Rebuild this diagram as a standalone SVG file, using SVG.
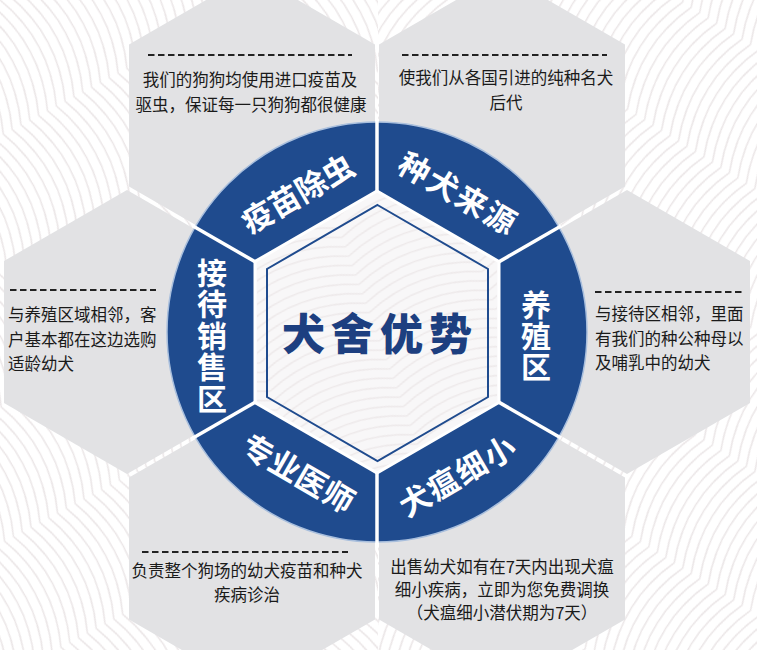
<svg xmlns="http://www.w3.org/2000/svg" width="757" height="650" viewBox="0 0 757 650">
  <style>
    .hex { fill: #e2e2e4; }
    .desc { font-family: 'Noto Sans CJK SC', 'Noto Sans', sans-serif; font-size: 16.5px; fill: #1a1a1a; }
    .mid { text-anchor: middle; }
    .dash { stroke: #222; stroke-width: 2; stroke-dasharray: 6.5 3.5; fill: none; }
    .lbl { font-family: 'Noto Sans CJK SC', 'Noto Sans', sans-serif; font-size: 31px; font-weight: 700; fill: #ffffff; text-anchor: middle; }
    .vl { font-size: 30px; writing-mode: vertical-rl; }
    .title { font-family: 'Noto Sans CJK SC', 'Noto Sans', sans-serif; font-size: 43px; font-weight: 900; fill: #1d3f80; text-anchor: middle; letter-spacing: 6px; }
    .yarn { fill: none; stroke: #ebe6e7; stroke-width: 1.6; }
  </style>
  <defs>
    <pattern id="yarnA" width="120" height="120" patternUnits="userSpaceOnUse" patternTransform="rotate(62)">
      <path class="yarn" d="M0 0 Q60 -25 120 0 M0 10 Q60 -15 120 10 M0 20 Q60 -5 120 20 M0 30 Q60 5 120 30 M0 40 Q60 15 120 40 M0 50 Q60 25 120 50 M0 60 Q60 35 120 60 M0 70 Q60 45 120 70 M0 80 Q60 55 120 80 M0 90 Q60 65 120 90 M0 100 Q60 75 120 100 M0 110 Q60 85 120 110 M0 120 Q60 95 120 120 M0 130 Q60 105 120 130"/>
    </pattern>
    <pattern id="yarnB" width="120" height="120" patternUnits="userSpaceOnUse" patternTransform="rotate(-58)">
      <path class="yarn" d="M0 0 Q60 -25 120 0 M0 10 Q60 -15 120 10 M0 20 Q60 -5 120 20 M0 30 Q60 5 120 30 M0 40 Q60 15 120 40 M0 50 Q60 25 120 50 M0 60 Q60 35 120 60 M0 70 Q60 45 120 70 M0 80 Q60 55 120 80 M0 90 Q60 65 120 90 M0 100 Q60 75 120 100 M0 110 Q60 85 120 110 M0 120 Q60 95 120 120 M0 130 Q60 105 120 130"/>
    </pattern>
    <pattern id="yarnC" width="120" height="120" patternUnits="userSpaceOnUse" patternTransform="rotate(-20)">
      <path class="yarn" d="M0 0 Q60 -25 120 0 M0 10 Q60 -15 120 10 M0 20 Q60 -5 120 20 M0 30 Q60 5 120 30 M0 40 Q60 15 120 40 M0 50 Q60 25 120 50 M0 60 Q60 35 120 60 M0 70 Q60 45 120 70 M0 80 Q60 55 120 80 M0 90 Q60 65 120 90 M0 100 Q60 75 120 100 M0 110 Q60 85 120 110 M0 120 Q60 95 120 120 M0 130 Q60 105 120 130"/>
    </pattern>
  </defs>

  <!-- background with yarn texture -->
  <g id="background">
    <rect x="0" y="0" width="757" height="650" fill="#ffffff"/>
    <rect x="0" y="0" width="378" height="650" fill="url(#yarnA)"/>
    <rect x="378" y="0" width="379" height="650" fill="url(#yarnB)"/>
  </g>

  <!-- honeycomb cells -->
  <g id="cells">
    <polygon class="hex" points="252,-26.5 375,44.5 375,186.5 252,257.5 129,186.5 129,44.5"/>
    <polygon class="hex" points="502,-26.5 625,44.5 625,186.5 502,257.5 379,186.5 379,44.5"/>
    <polygon class="hex" points="127,190 250,261 250,403 127,474 4,403 4,261"/>
    <polygon class="hex" points="627,190 750,261 750,403 627,474 504,403 504,261"/>
    <polygon class="hex" points="252,406.5 375,477.5 375,619.5 252,690.5 129,619.5 129,477.5"/>
    <polygon class="hex" points="502,406.5 625,477.5 625,619.5 502,690.5 379,619.5 379,477.5"/>
  </g>

  <!-- blue ring -->
  <g id="ring">
    <circle cx="377" cy="332" r="210" fill="#1f4b8e" stroke="#a9bfdd" stroke-width="1.5"/>
  </g>

  <!-- dividers between ring segments -->
  <g id="connectors" stroke="#ffffff" stroke-width="3.5" fill="none">
    <line x1="377" y1="332" x2="377" y2="120"/>
    <line x1="377" y1="332" x2="561" y2="226"/>
    <line x1="377" y1="332" x2="561" y2="438"/>
    <line x1="377" y1="332" x2="377" y2="544"/>
    <line x1="377" y1="332" x2="193" y2="438"/>
    <line x1="377" y1="332" x2="193" y2="226"/>
  </g>

  <!-- center -->
  <g id="center">
    <polygon points="377,191 499,261.5 499,402.5 377,473 255,402.5 255,261.5" fill="#f8f7f8" stroke="#ffffff" stroke-width="3"/>
    <polygon points="377,193 497,262.5 497,401.5 377,471 257,401.5 257,262.5" fill="url(#yarnC)" opacity="0.8"/>
    <polygon points="377.5,205 488,269 488,397 377.5,461 267,397 267,269" fill="none" stroke="#1f4b8e" stroke-width="2"/>
    <text class="title" x="380" y="350">犬舍优势</text>
  </g>

  <!-- node: 疫苗除虫 -->
  <g id="node-vaccine">
    <line class="dash" x1="148" y1="55" x2="352" y2="55"/>
    <text class="desc mid" x="250" y="86">我们的狗狗均使用进口疫苗及</text>
    <text class="desc mid" x="251" y="111">驱虫，保证每一只狗狗都很健康</text>
    <text class="lbl" transform="translate(298,194) rotate(-30)" x="0" y="11">疫苗除虫</text>
  </g>

  <!-- node: 种犬来源 -->
  <g id="node-source">
    <line class="dash" x1="402" y1="55" x2="607" y2="55"/>
    <text class="desc mid" x="506" y="84">使我们从各国引进的纯种名犬</text>
    <text class="desc mid" x="506" y="109">后代</text>
    <text class="lbl" transform="translate(458,194) rotate(30)" x="0" y="11" style="letter-spacing:2px">种犬来源</text>
  </g>

  <!-- node: 养殖区 -->
  <g id="node-breeding">
    <line class="dash" x1="595" y1="292" x2="745" y2="292"/>
    <text class="desc" x="595" y="320">与接待区相邻，里面</text>
    <text class="desc" x="595" y="345">有我们的种公种母以</text>
    <text class="desc" x="595" y="369">及哺乳中的幼犬</text>
    <text class="lbl vl" x="536" y="336" style="letter-spacing:1px">养殖区</text>
  </g>

  <!-- node: 犬瘟细小 -->
  <g id="node-distemper">
    <text class="desc mid" x="502" y="573">出售幼犬如有在7天内出现犬瘟</text>
    <text class="desc mid" x="502" y="596">细小疾病，立即为您免费调换</text>
    <text class="desc mid" x="502" y="619">（犬瘟细小潜伏期为7天）</text>
    <text class="lbl" transform="translate(458,476) rotate(-30)" x="0" y="11" style="letter-spacing:1.5px">犬瘟细小</text>
  </g>

  <!-- node: 专业医师 -->
  <g id="node-vet">
    <line class="dash" x1="142" y1="552" x2="348" y2="552"/>
    <text class="desc mid" x="247" y="577">负责整个狗场的幼犬疫苗和种犬</text>
    <text class="desc mid" x="247" y="601">疾病诊治</text>
    <text class="lbl" transform="translate(298,474) rotate(30)" x="0" y="11">专业医师</text>
  </g>

  <!-- node: 接待销售区 -->
  <g id="node-reception">
    <line class="dash" x1="10" y1="290" x2="156" y2="290"/>
    <text class="desc" x="8" y="321">与养殖区域相邻，客</text>
    <text class="desc" x="8" y="346">户基本都在这边选购</text>
    <text class="desc" x="8" y="370">适龄幼犬</text>
    <text class="lbl vl" x="212" y="336" style="letter-spacing:1.5px">接待销售区</text>
  </g>
</svg>
